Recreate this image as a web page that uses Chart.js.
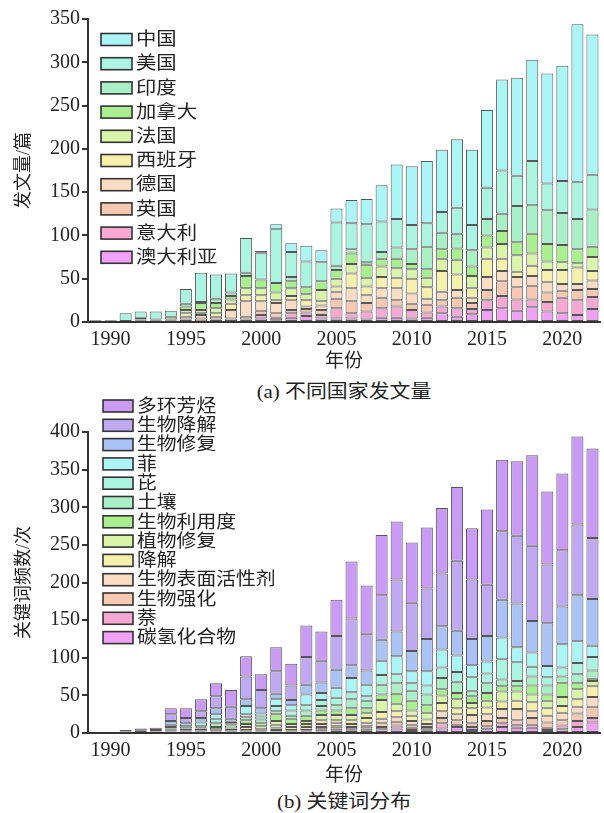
<!DOCTYPE html>
<html><head><meta charset="utf-8">
<script src="https://cdn.jsdelivr.net/npm/chart.js@4.4.1/dist/chart.umd.min.js"></script>
<style>
html,body{margin:0;padding:0;background:#fff;width:604px;height:813px;overflow:hidden;}
#wrap{position:relative;width:604px;height:813px;}
canvas{position:absolute;left:0;}
.cap{position:absolute;left:88px;width:512px;text-align:center;font:19px 'Liberation Serif','Times New Roman','Noto Sans CJK SC',serif;color:#222;line-height:20px;transform:scaleX(1.1);transform-origin:256px 50%;}
</style></head>
<body><div id="wrap">
<div class="cap" id="capA" style="top:382px">(a) 不同国家发文量</div>
<div class="cap" id="capB" style="top:792px">(b) 关键词分布</div>
<canvas id="cA" width="604" height="380" style="top:0"></canvas>
<canvas id="cB" width="604" height="419" style="top:394px"></canvas>
</div>
<script>
const FF = "'Liberation Serif','Times New Roman','Noto Sans CJK SC',serif";
const years = [1989,1990,1991,1992,1993,1994,1995,1996,1997,1998,1999,2000,2001,2002,2003,2004,2005,2006,2007,2008,2009,2010,2011,2012,2013,2014,2015,2016,2017,2018,2019,2020,2021,2022];
const yTicksA = [0,50,100,150,200,250,300,350];
const yTicksB = [0,50,100,150,200,250,300,350,400];

// (a) 不同国家发文量 (stack bottom -> top)
const countryNames = ['澳大利亚','意大利','英国','德国','西班牙','法国','加拿大','印度','美国','中国'];
const australia = [0,0,0,0,0,0,0,0,0,0,1,4,2,5,7,4,4,4,3,5,5,4,5,10,6,9,14,16,13,17,12,10,8,15];
const italy     = [0,0,0,0,0,0,0,1,1,0,2,4,3,5,4,4,12,6,9,11,13,10,6,8,10,6,11,14,13,9,11,18,17,14];
const uk        = [1,0,0,2,2,2,3,3,2,4,3,5,5,4,4,6,11,14,10,12,7,7,9,7,12,7,12,17,14,16,11,8,12,9];
const germany   = [0,1,0,1,1,1,3,4,3,10,18,11,12,11,3,5,8,15,9,11,14,12,7,10,9,6,15,12,12,11,12,8,7,10];
const spain     = [0,0,0,0,0,0,4,2,4,7,7,7,3,5,7,5,6,17,10,13,12,17,13,24,18,11,21,14,6,12,14,16,19,11];
const france    = [0,0,0,0,0,0,4,4,6,5,8,8,9,9,7,13,9,11,10,12,11,11,11,14,17,14,13,17,19,14,10,9,5,16];
const canada    = [0,0,0,2,0,3,4,8,6,4,14,10,11,8,8,10,10,12,15,9,11,6,10,11,13,11,14,15,15,23,20,20,16,12];
const india     = [0,0,0,0,0,0,3,1,5,4,4,0,0,5,0,0,5,5,3,8,13,17,26,19,17,19,19,20,42,33,39,37,35,43];
const usa       = [1,1,10,7,9,7,17,34,28,22,40,31,62,29,30,22,50,30,44,35,33,28,27,24,30,29,36,50,35,51,31,37,43,40];
const china     = [0,0,0,0,0,0,0,0,0,0,0,2,6,10,18,14,16,27,29,42,63,68,72,72,79,87,90,105,113,117,127,133,182,162];
const countrySeries = [australia,italy,uk,germany,spain,france,canada,india,usa,china];
const countryColors = ['#f0a0f5','#f8a8d2','#f8c8b0','#fcdcc2','#f5f0aa','#d9f5a8','#a8f08e','#a8f0c6','#aaf5df','#aaf5f5'];

// (b) 关键词分布 (stack bottom -> top)
const keywordNames = ['碳氢化合物','萘','生物强化','生物表面活性剂','降解','植物修复','生物利用度','土壤','芘','菲','生物修复','生物降解','多环芳烃'];
const hydrocarbon   = [0,0,0,0,0,1,1,1,1,1,1,1,2,1,2,2,3,3,3,5,6,4,3,6,8,4,5,8,7,7,4,5,8,14];
const naphthalene   = [0,0,0,0,0,1,0,1,1,1,1,1,2,1,1,3,3,2,3,3,4,3,2,7,3,4,4,5,4,4,3,5,8,6];
const bioaugment    = [0,0,0,0,0,1,1,0,1,1,1,1,2,1,1,3,3,3,3,5,5,4,3,7,6,5,7,7,6,9,7,7,10,15];
const biosurfactant = [0,0,0,0,0,0,0,1,0,0,1,1,1,1,4,4,4,4,4,6,6,5,4,9,8,11,9,12,15,9,9,10,9,13];
const degradation   = [0,0,0,0,0,1,0,0,1,1,4,1,4,4,4,5,4,5,7,9,8,7,6,11,8,9,9,10,11,12,10,9,10,14];
const phytoremed    = [0,0,0,0,0,0,1,1,1,2,4,4,5,4,4,7,7,7,7,16,10,7,9,10,12,7,9,13,12,10,10,12,13,7];
const bioavail      = [0,0,0,0,0,1,0,2,3,4,5,4,9,7,7,6,6,9,6,7,13,13,10,8,8,9,10,7,7,12,8,18,8,3];
const soil          = [0,0,0,0,0,1,1,1,5,1,4,5,4,4,7,6,7,12,10,13,14,13,14,15,15,7,13,9,7,12,12,9,12,11];
const pyrene        = [0,0,0,0,0,2,2,2,6,2,4,4,7,7,7,8,10,9,6,13,12,10,12,14,13,18,13,27,25,13,11,12,15,18];
const phenanthrene  = [0,0,0,0,1,3,3,5,6,2,11,4,9,7,14,9,13,19,15,19,24,16,19,24,22,16,16,29,20,19,15,31,29,15];
const bioremed      = [0,0,0,1,1,5,4,6,8,4,9,7,7,7,13,14,24,17,19,28,33,27,43,31,33,35,34,50,58,42,57,50,61,62];
const biodegrad     = [0,0,2,2,2,9,7,9,16,16,30,24,30,19,37,29,45,62,49,59,69,64,67,70,93,79,68,91,90,100,78,75,94,81];
const pahs          = [0,0,2,3,3,8,13,16,17,22,27,21,32,29,42,39,48,76,64,80,77,80,81,87,98,68,100,95,99,120,97,102,117,119];
const keywordSeries = [hydrocarbon,naphthalene,bioaugment,biosurfactant,degradation,phytoremed,bioavail,soil,pyrene,phenanthrene,bioremed,biodegrad,pahs];
const keywordColors = ['#f0a0f5','#f8a8d2','#f8c8b0','#fcdcc2','#f5f0aa','#d9f5a8','#a8f08e','#a8f0c6','#aaf5df','#aaf5f5','#a9c3f6','#bfa9f3','#c99af6'];

const legendPlugin = {
  id: 'boxLegend',
  afterDraw(chart, args, o) {
    const ctx = chart.ctx;
    const ds = chart.data.datasets.slice().reverse();
    ctx.save();
    ctx.font = o.size + 'px ' + FF;
    ctx.textBaseline = 'middle';
    ctx.textAlign = 'left';
    ds.forEach((d, i) => {
      const cy = o.y + i * o.gap;
      ctx.fillStyle = d.backgroundColor;
      ctx.fillRect(o.x, cy - o.h / 2, o.w, o.h);
      ctx.lineWidth = 1.6;
      ctx.strokeStyle = '#333';
      ctx.strokeRect(o.x, cy - o.h / 2, o.w, o.h);
      ctx.save();
      ctx.translate(o.x + o.w + 4, cy + 1);
      ctx.scale(o.sx, 1);
      ctx.fillStyle = '#222';
      ctx.fillText(d.label, 0, 0);
      ctx.restore();
    });
    ctx.restore();
  }
};

function buildDatasets(names, series, colors) {
  return names.map((n, i) => ({
    label: n,
    data: series[i].map(v => v === 0 ? null : v),
    backgroundColor: colors[i],
    borderColor: 'rgba(45,45,45,0.8)',
    borderWidth: 1,
    borderSkipped: false,
    barPercentage: 0.8,
    categoryPercentage: 1.0
  }));
}

function makeChart(id, names, series, colors, cfg) {
  return new Chart(document.getElementById(id), {
    type: 'bar',
    data: { labels: years.map(String), datasets: buildDatasets(names, series, colors) },
    options: {
      responsive: false, animation: false,
      layout: { padding: { left: 0, right: 4, top: cfg.top, bottom: 0 } },
      plugins: { legend: { display: false }, tooltip: { enabled: false }, boxLegend: cfg.legend },
      scales: {
        x: {
          stacked: true, offset: true,
          grid: { display: false, drawTicks: false },
          border: { display: true, color: '#333', width: 2 },
          ticks: { autoSkip: false, maxRotation: 0, minRotation: 0, padding: 6, color: '#222',
                   font: { family: FF, size: 20 },
                   callback: (v, i) => (years[i] % 5 === 0 ? String(years[i]) : '') },
          title: { display: true, text: '年份', color: '#222', font: { family: FF, size: 19 },
                   padding: { top: 0, bottom: cfg.xTitlePad } },
          afterFit: s => { s.height = cfg.xH; }
        },
        y: {
          stacked: true, min: 0, max: cfg.ticks[cfg.ticks.length - 1],
          afterBuildTicks: s => { s.ticks = cfg.ticks.map(v => ({ value: v })); },
          grid: { drawOnChartArea: false, drawTicks: true, tickLength: 6, color: '#333', lineWidth: 2 },
          border: { display: true, color: '#333', width: 2 },
          ticks: { padding: 2, color: '#222', font: { family: FF, size: 20 } },
          title: { display: true, text: cfg.yTitle, color: '#222', font: { family: FF, size: 18 },
                   padding: { top: 13, bottom: 0 } },
          afterFit: s => { s.width = 88; }
        }
      }
    },
    plugins: [legendPlugin]
  });
}

makeChart('cA', countryNames, countrySeries, countryColors, {
  top: 19, xH: 58, xTitlePad: 7, ticks: yTicksA, yTitle: '发文量/篇',
  legend: { x: 101, y: 39.5, gap: 24.2, w: 31, h: 12, size: 18, sx: 1.13 }
});
makeChart('cB', keywordNames, keywordSeries, keywordColors, {
  top: 38, xH: 80, xTitlePad: 26, ticks: yTicksB, yTitle: '关键词频数/次',
  legend: { x: 103, y: 12, gap: 19.3, w: 30, h: 12, size: 18, sx: 1.1 }
});
</script>
</body></html>
